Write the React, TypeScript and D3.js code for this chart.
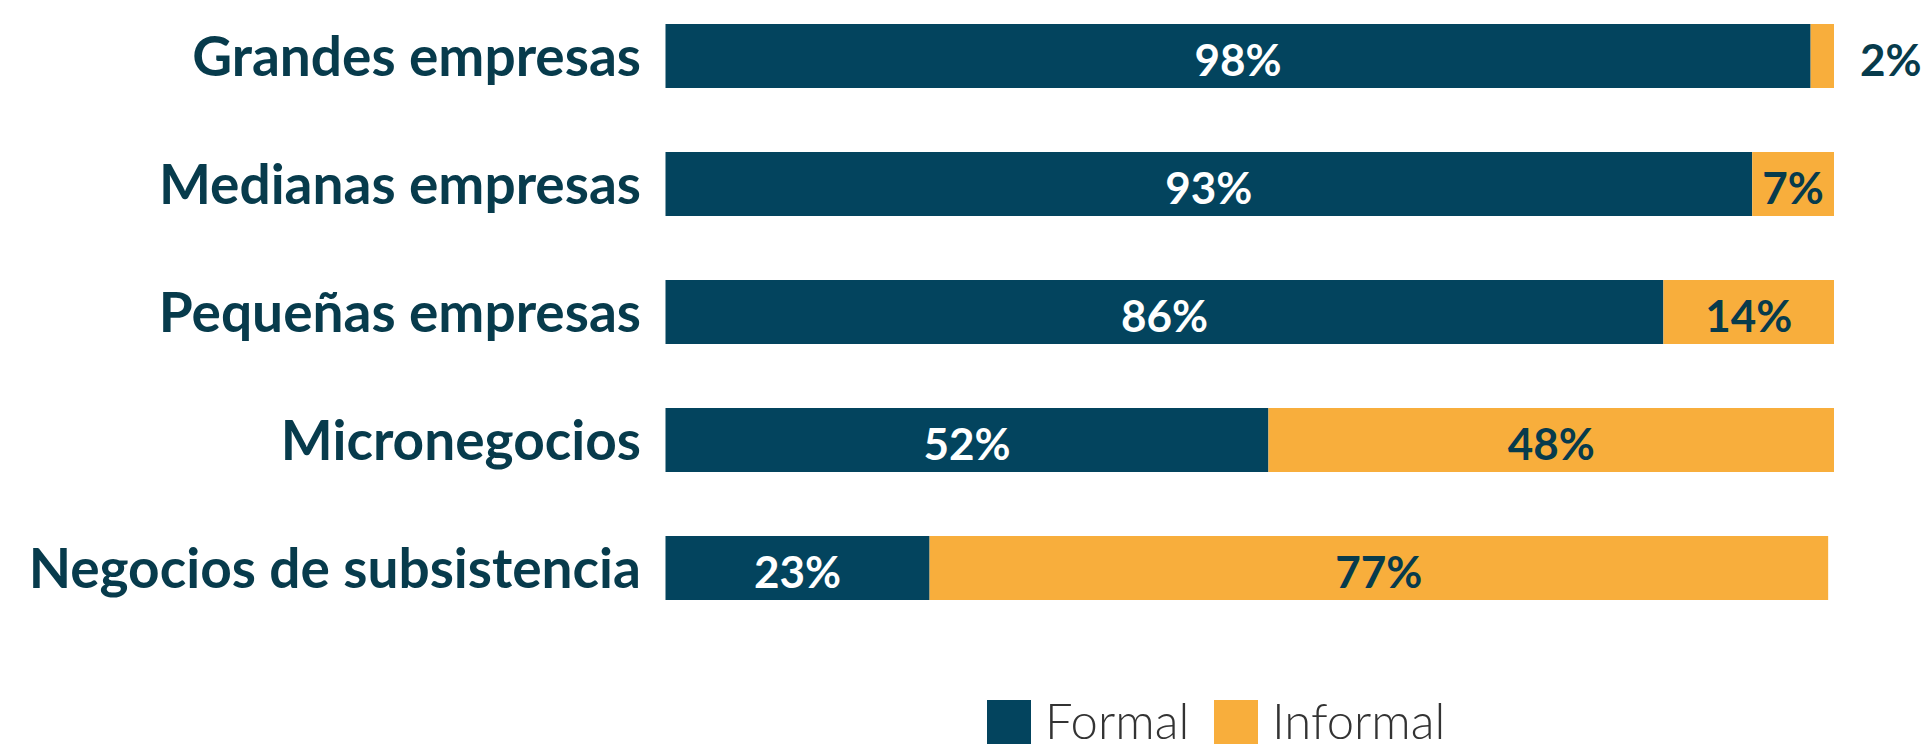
import React from "react";
import * as d3 from "d3";

const categories = [
  "Grandes empresas",
  "Medianas empresas",
  "Pequeñas empresas",
  "Micronegocios",
  "Negocios de subsistencia",
];
const formal = [98, 93, 85.4, 51.6, 22.6];
const informal = [2, 7, 14.6, 48.4, 76.9];
const formalLabels = ["98%", "93%", "86%", "52%", "23%"];
const informalLabels = ["2%", "7%", "14%", "48%", "77%"];
const seriesNames = ["Formal", "Informal"];

const W = 1926;
const H = 750;
const C_FORMAL = "#03445e";
const C_INFORMAL = "#f8ae3c";
const C_TEXT = "#073b4c";
const FONT = "Lato, 'Open Sans', sans-serif";

export default function App() {
  const x = d3.scaleLinear().domain([0, 100]).range([665.5, 1834]);
  const y = d3
    .scaleBand<string>()
    .domain(categories)
    .range([-8, 632])
    .paddingInner(0.5)
    .paddingOuter(0.25);
  const bw = y.bandwidth();
  const fs = 44;

  return (
    <svg
      width={W}
      height={H}
      style={{ position: "absolute", left: 0, top: 0, background: "#fff" }}
    >
      {categories.map((c, i) => {
        const top = y(c)!;
        const cy = top + bw / 2;
        const f0 = x(0);
        const f1 = x(formal[i]);
        const i1 = x(formal[i] + informal[i]);
        const infW = i1 - f1;
        const infInside = infW > 60;
        return (
          <g key={c}>
            <text
              x={641}
              y={cy + 20}
              textAnchor="end"
              fontFamily={FONT}
              fontWeight={700}
              fontSize={55}
              fill={C_TEXT}
            >
              {c}
            </text>
            <rect x={f0} y={top} width={f1 - f0} height={bw} fill={C_FORMAL} />
            <rect x={f1} y={top} width={infW} height={bw} fill={C_INFORMAL} />
            <text
              x={(f0 + f1) / 2}
              y={cy + 20}
              textAnchor="middle"
              fontFamily={FONT}
              fontWeight={700}
              fontSize={fs}
              fill="#ffffff"
            >
              {formalLabels[i]}
            </text>
            <text
              x={infInside ? (f1 + i1) / 2 : i1 + 26}
              y={cy + 20}
              textAnchor={infInside ? "middle" : "start"}
              fontFamily={FONT}
              fontWeight={700}
              fontSize={fs}
              fill={C_TEXT}
            >
              {informalLabels[i]}
            </text>
          </g>
        );
      })}
      {seriesNames.map((s, i) => {
        const lx = [987, 1214][i];
        return (
          <g key={s}>
            <rect
              x={lx}
              y={700}
              width={44}
              height={44}
              fill={i === 0 ? C_FORMAL : C_INFORMAL}
            />
            <text
              x={lx + 58}
              y={739}
              fontFamily={FONT}
              fontWeight={300}
              fontSize={49}
              fill="#333333"
            >
              {s}
            </text>
          </g>
        );
      })}
    </svg>
  );
}
